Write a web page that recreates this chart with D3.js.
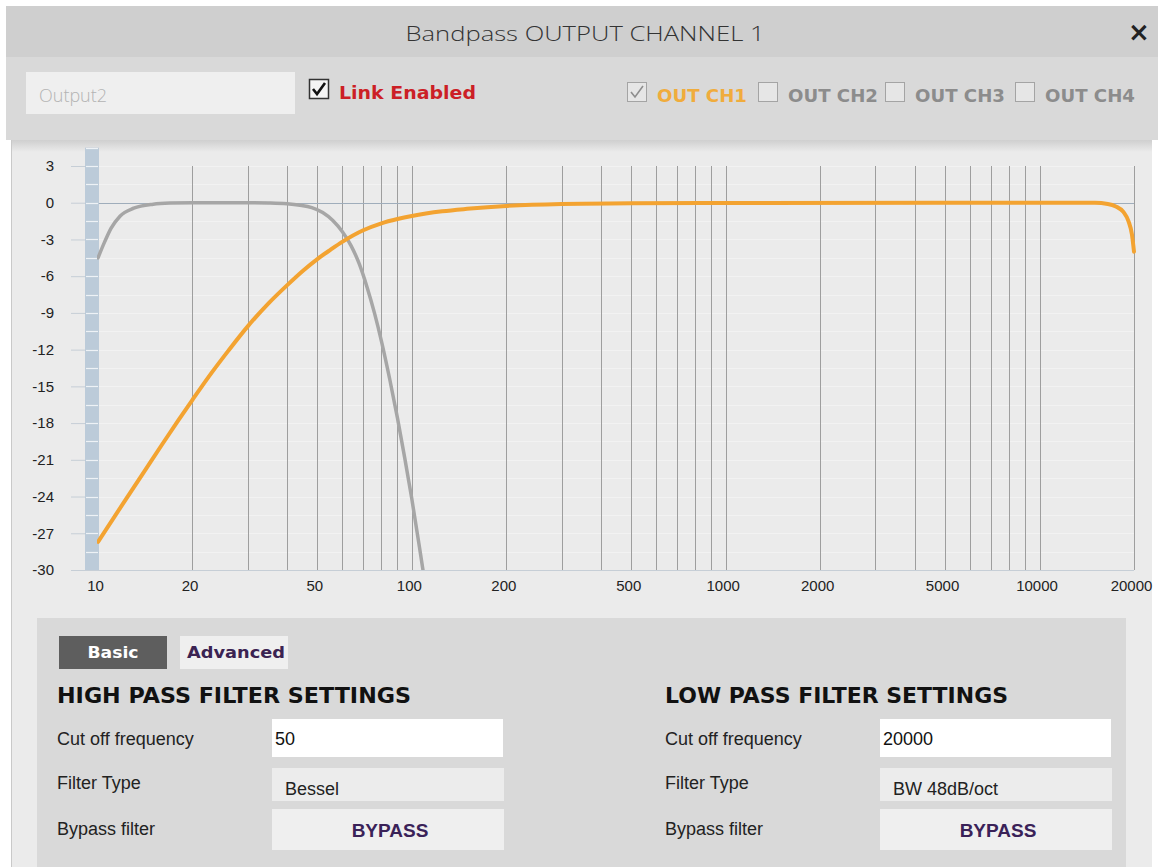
<!DOCTYPE html>
<html>
<head>
<meta charset="utf-8">
<script src="https://cdn.jsdelivr.net/npm/d3@7"></script>
<style>
  body { margin: 0; background: #fff; }
  svg { display: block; }
</style>
</head>
<body>
<div id="chart"></div>
<script>
// frequency response data (Hz, dB)
const grayCurve = [
  [10, -4.5], [10.5, -3.2], [11, -2.1], [11.75, -1.1], [13, -0.45], [15, -0.12],
  [17, -0.03], [20, 0], [30, 0], [35, -0.02], [40, -0.08], [44, -0.2], [48, -0.4],
  [52, -0.8], [56, -1.45], [60, -2.35], [64, -3.5], [68, -5.0], [72, -6.9], [76, -9.0],
  [80, -11.3], [85, -14.4], [90, -17.6], [95, -20.9], [100, -24.2], [106, -28.3], [110, -31]
];
const orangeCurve = [
  [10, -27.7], [12, -24.6], [14, -22.0], [16, -19.75], [18, -17.8], [20, -16.1],
  [23, -13.9], [26, -12.1], [30, -10.1], [35, -8.2], [40, -6.75], [45, -5.55],
  [50, -4.6], [55, -3.85], [60, -3.2], [70, -2.25], [80, -1.68], [90, -1.33],
  [100, -1.08], [125, -0.7], [150, -0.5], [200, -0.26], [300, -0.1], [500, -0.04],
  [1000, -0.02], [5000, 0], [15000, -0.01], [16500, -0.1], [17500, -0.3],
  [18500, -0.75], [19200, -1.5], [19700, -2.6], [20000, -4.0]
];
const gridFreqs = [20, 30, 40, 50, 60, 70, 80, 90, 100, 200, 300, 400, 500, 600, 700, 800, 900,
  1000, 2000, 3000, 4000, 5000, 6000, 7000, 8000, 9000, 10000, 20000];
const xLabels = [10, 20, 50, 100, 200, 500, 1000, 2000, 5000, 10000, 20000];
const yLabels = [3, 0, -3, -6, -9, -12, -15, -18, -21, -24, -27, -30];
const minorDb = d3.range(4.5, -30, -1.5);

const channels = ["OUT CH1", "OUT CH2", "OUT CH3", "OUT CH4"];
const channelX = [627, 758, 885, 1015];

const W = 1158, H = 867;
const svg = d3.select("#chart").append("svg").attr("width", W).attr("height", H);
const defs = svg.append("defs");

const shadow = defs.append("linearGradient").attr("id", "shadow")
  .attr("x1", 0).attr("y1", 0).attr("x2", 0).attr("y2", 1);
shadow.append("stop").attr("offset", "0%").attr("stop-color", "#cfcfcf");
shadow.append("stop").attr("offset", "100%").attr("stop-color", "#ebebeb");

// ---------- window chrome ----------
svg.append("rect").attr("x", 6).attr("y", 6).attr("width", W - 6).attr("height", 51).attr("fill", "#cfcfcf");
svg.append("rect").attr("x", 6).attr("y", 57).attr("width", W - 6).attr("height", 83).attr("fill", "#d9d9d9");

svg.append("text").attr("x", 585).attr("y", 41).attr("text-anchor", "middle")
  .attr("font-family", "'Open Sans', sans-serif").attr("font-weight", 300).attr("font-size", 21)
  .attr("fill", "#333").attr("textLength", 359).attr("lengthAdjust", "spacingAndGlyphs")
  .text("Bandpass OUTPUT CHANNEL 1");
svg.append("text").attr("x", 1139).attr("y", 41).attr("text-anchor", "middle")
  .attr("font-family", "'DejaVu Sans', sans-serif").attr("font-weight", "bold").attr("font-size", 26)
  .attr("fill", "#222").text("×");

// name box
svg.append("rect").attr("x", 26).attr("y", 72).attr("width", 269).attr("height", 42).attr("fill", "#efefef");
svg.append("text").attr("x", 39).attr("y", 102)
  .attr("font-family", "'Open Sans', sans-serif").attr("font-weight", 300).attr("font-size", 18)
  .attr("fill", "#b3b3b3").text("Output2");

function checkbox(x, y, checked, dark) {
  svg.append("rect").attr("x", x + 0.5).attr("y", y + 0.5).attr("width", 19).attr("height", 19)
    .attr("fill", dark ? "#f4f4f4" : "#e6e6e6")
    .attr("stroke", dark ? "#333" : "#a4a4a4").attr("stroke-width", dark ? 1.5 : 1);
  if (checked) {
    svg.append("path")
      .attr("d", `M${x + 4},${y + 10} L${x + 8},${y + 15} L${x + 16},${y + 4}`)
      .attr("fill", "none").attr("stroke", dark ? "#111" : "#8e8e8e")
      .attr("stroke-width", dark ? 2.6 : 1.6);
  }
}
checkbox(309, 79, true, true);
svg.append("text").attr("x", 339).attr("y", 99)
  .attr("font-family", "'DejaVu Sans', sans-serif").attr("font-weight", "bold").attr("font-size", 18)
  .attr("fill", "#cc1f26").attr("textLength", 137).attr("lengthAdjust", "spacingAndGlyphs")
  .text("Link Enabled");

channels.forEach(function(c, i) {
  checkbox(channelX[i], 82, i === 0, false);
  svg.append("text").attr("x", channelX[i] + 30).attr("y", 102)
    .attr("font-family", "'DejaVu Sans', sans-serif").attr("font-weight", "bold").attr("font-size", 18)
    .attr("fill", i === 0 ? "#f0ac3c" : "#8c8c8c")
    .attr("textLength", 90).attr("lengthAdjust", "spacingAndGlyphs")
    .text(c);
});

// ---------- chart panel ----------
svg.append("rect").attr("x", 11).attr("y", 140).attr("width", 1141).attr("height", H - 140).attr("fill", "#ebebeb");
svg.append("rect").attr("x", 11).attr("y", 140).attr("width", 1141).attr("height", 12).attr("fill", "url(#shadow)");
svg.append("line").attr("x1", 11.5).attr("x2", 11.5).attr("y1", 140).attr("y2", H)
  .attr("stroke", "#c9c9c9");

const x = d3.scaleLog().domain([10, 20000]).range([98, 1134]);
const y = d3.scaleLinear().domain([-30, 3]).range([570, 166]);

const plot = svg.append("g");

// faint horizontal grid
plot.selectAll(".hgrid").data(minorDb.filter(d => d <= 3 && d > -30)).enter().append("line")
  .attr("x1", 99).attr("x2", 1134).attr("y1", d => Math.round(y(d)) + 0.5).attr("y2", d => Math.round(y(d)) + 0.5)
  .attr("stroke", "#f2f2f2");

// left blue band with minor marks
plot.append("rect").attr("x", 85).attr("y", y(4.5)).attr("width", 14).attr("height", 570 - y(4.5))
  .attr("fill", "#bccbd9");
plot.selectAll(".minor").data(minorDb).enter().append("line")
  .attr("x1", 86).attr("x2", 98).attr("y1", d => Math.round(y(d)) + 0.5).attr("y2", d => Math.round(y(d)) + 0.5)
  .attr("stroke", "#eef2f6").attr("stroke-width", 1.2);

// y axis
const yAxis = d3.axisLeft(y).tickValues(yLabels).tickSize(14).tickPadding(17).tickFormat(d => String(d));
const yg = plot.append("g").attr("transform", "translate(85,0)").call(yAxis);
yg.select(".domain").remove();
yg.selectAll(".tick line").attr("stroke", "#c6ced6");
yg.selectAll(".tick text").attr("font-family", "'Liberation Sans', Arial, sans-serif")
  .attr("font-size", 15).attr("fill", "#222");

// vertical grid
plot.selectAll(".vgrid").data(gridFreqs).enter().append("line")
  .attr("x1", d => Math.round(x(d)) + 0.5).attr("x2", d => Math.round(x(d)) + 0.5)
  .attr("y1", y(3)).attr("y2", 570).attr("stroke", "#9e9e9e");

// 0 dB line
plot.append("line").attr("x1", 99).attr("x2", 1134).attr("y1", Math.round(y(0)) + 0.5).attr("y2", Math.round(y(0)) + 0.5)
  .attr("stroke", "#9fadbb");

// x axis
const xAxis = d3.axisBottom(x).tickValues(xLabels).tickSize(0).tickPadding(10).tickFormat(d => String(d));
const xg = plot.append("g").attr("transform", "translate(0,570)").call(xAxis);
xg.select(".domain").remove();
xg.selectAll(".tick text").attr("font-family", "'Liberation Sans', Arial, sans-serif")
  .attr("font-size", 15).attr("fill", "#222").attr("dx", -3);
plot.append("line").attr("x1", 71).attr("x2", 1134).attr("y1", 570.5).attr("y2", 570.5).attr("stroke", "#c6ced6");

// curves
defs.append("clipPath").attr("id", "plotclip").append("rect")
  .attr("x", 97).attr("y", 140).attr("width", 1040).attr("height", 570 - 140);
const line = d3.line().x(d => x(d[0])).y(d => y(d[1])).curve(d3.curveMonotoneX);
const curves = plot.append("g").attr("clip-path", "url(#plotclip)");
curves.append("path").datum(grayCurve).attr("d", line)
  .attr("fill", "none").attr("stroke", "#a6a6a6").attr("stroke-width", 3.5).attr("stroke-linecap", "round");
curves.append("path").datum(orangeCurve).attr("d", line)
  .attr("fill", "none").attr("stroke", "#f3a331").attr("stroke-width", 4).attr("stroke-linecap", "round");

// ---------- settings panel ----------
svg.append("rect").attr("x", 37).attr("y", 618).attr("width", 1089).attr("height", H - 618).attr("fill", "#d9d9d9");

svg.append("rect").attr("x", 59).attr("y", 636).attr("width", 108).attr("height", 33).attr("fill", "#5e5e5e");
svg.append("text").attr("x", 113).attr("y", 658).attr("text-anchor", "middle")
  .attr("font-family", "'DejaVu Sans', sans-serif").attr("font-weight", "bold").attr("font-size", 16)
  .attr("fill", "#fff").attr("textLength", 51).attr("lengthAdjust", "spacingAndGlyphs").text("Basic");
svg.append("rect").attr("x", 180).attr("y", 636).attr("width", 108).attr("height", 33).attr("fill", "#efefef");
svg.append("text").attr("x", 187).attr("y", 658)
  .attr("font-family", "'DejaVu Sans', sans-serif").attr("font-weight", "bold").attr("font-size", 16)
  .attr("fill", "#3b2352").attr("textLength", 98).attr("lengthAdjust", "spacingAndGlyphs").text("Advanced");

const sections = [
  { title: "HIGH PASS FILTER SETTINGS", titleW: 354, lx: 57, bx: 272, freq: "50", type: "Bessel" },
  { title: "LOW PASS FILTER SETTINGS", titleW: 343, lx: 665, bx: 880, freq: "20000", type: "BW 48dB/oct" }
];
const labelFont = "'Liberation Sans', Arial, sans-serif";
sections.forEach(function(s) {
  svg.append("text").attr("x", s.lx).attr("y", 703)
    .attr("font-family", "'DejaVu Sans', sans-serif").attr("font-weight", "bold").attr("font-size", 21)
    .attr("fill", "#111").attr("textLength", s.titleW).attr("lengthAdjust", "spacingAndGlyphs").text(s.title);

  svg.append("text").attr("x", s.lx).attr("y", 745).attr("font-family", labelFont).attr("font-size", 18)
    .attr("fill", "#222").text("Cut off frequency");
  svg.append("text").attr("x", s.lx).attr("y", 789).attr("font-family", labelFont).attr("font-size", 18)
    .attr("fill", "#222").text("Filter Type");
  svg.append("text").attr("x", s.lx).attr("y", 835).attr("font-family", labelFont).attr("font-size", 18)
    .attr("fill", "#222").text("Bypass filter");

  svg.append("rect").attr("x", s.bx).attr("y", 719).attr("width", 231).attr("height", 38).attr("fill", "#fff");
  svg.append("text").attr("x", s.bx + 3).attr("y", 745).attr("font-family", labelFont).attr("font-size", 18)
    .attr("fill", "#111").text(s.freq);

  svg.append("rect").attr("x", s.bx).attr("y", 768).attr("width", 232).attr("height", 33).attr("fill", "#ececec");
  svg.append("text").attr("x", s.bx + 13).attr("y", 795).attr("font-family", labelFont).attr("font-size", 18)
    .attr("fill", "#222").text(s.type);

  svg.append("rect").attr("x", s.bx).attr("y", 809).attr("width", 232).attr("height", 41).attr("fill", "#efefef");
  svg.append("text").attr("x", s.bx + 118).attr("y", 837).attr("text-anchor", "middle")
    .attr("font-family", labelFont).attr("font-weight", "bold").attr("font-size", 19)
    .attr("fill", "#3a2258").text("BYPASS");
});
</script>
</body>
</html>
